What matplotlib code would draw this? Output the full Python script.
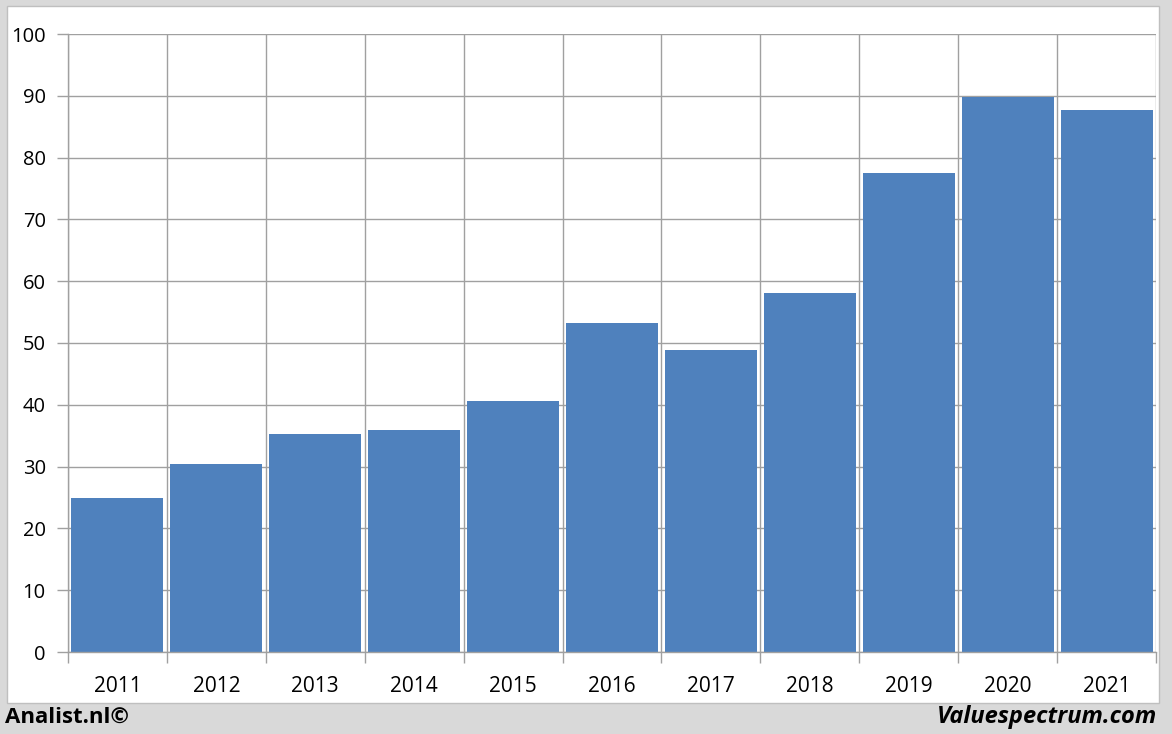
import numpy as np
import matplotlib.pyplot as plt
from matplotlib.patches import Rectangle

plt.rcParams['font.family'] = ['Open Sans', 'DejaVu Sans']

years = ['2011', '2012', '2013', '2014', '2015', '2016', '2017', '2018', '2019', '2020', '2021']
values = [24.9, 30.4, 35.3, 35.9, 40.6, 53.2, 48.9, 58.1, 77.5, 89.8, 87.7]

grid_col = '#a0a0a0'
bar_col = '#4f81bd'

fig = plt.figure(figsize=(11.72, 7.34), dpi=100)
fig.patch.set_facecolor('#d9d9d9')

# white chart panel (behind the axes)
fig.patches.append(Rectangle((7 / 1172, 1 - 703 / 734), (1159 - 7) / 1172, (703 - 6) / 734,
                             transform=fig.transFigure, facecolor='white',
                             edgecolor='#bfbfbf', linewidth=1, zorder=-10))

ax = fig.add_axes([68 / 1172, 1 - 652 / 734, (1156 - 68) / 1172, (652 - 34) / 734])
ax.set_zorder(1)
ax.set_facecolor('none')

x = np.arange(len(years))
ax.bar(x, values, width=0.93, color=bar_col, edgecolor='none', zorder=3)

ax.set_xlim(-0.5, len(years) - 0.5)
ax.set_ylim(0, 100)
ax.set_yticks(np.arange(0, 101, 10))
ax.set_xticks(x)
ax.set_xticklabels(years)
ax.set_xticks(np.arange(-0.5, len(years)), minor=True)

ax.grid(True, axis='y', which='major', color=grid_col, linewidth=1, zorder=0)
ax.grid(True, axis='x', which='minor', color=grid_col, linewidth=1, zorder=0)
ax.grid(False, axis='x', which='major')

ax.tick_params(axis='x', which='major', length=0, pad=17, labelsize=15)
ax.tick_params(axis='x', which='minor', length=8, color=grid_col, width=1)
ax.tick_params(axis='y', length=8, color=grid_col, width=1, pad=8, labelsize=14.5)

for s in ['top', 'right']:
    ax.spines[s].set_visible(False)
for s in ['left', 'bottom']:
    ax.spines[s].set_color(grid_col)
    ax.spines[s].set_linewidth(1)
    ax.spines[s].set_zorder(4)

fig.text(5 / 1172, 1 - 717 / 734, 'Analist.nl©', fontsize=16, fontweight='bold',
         ha='left', va='center', color='black')
fig.text(1157 / 1172, 1 - 717 / 734, 'Valuespectrum.com', fontsize=17, fontweight='bold',
         style='italic', ha='right', va='center', color='black')

fig.savefig('out.png', dpi=100, facecolor=fig.get_facecolor())
